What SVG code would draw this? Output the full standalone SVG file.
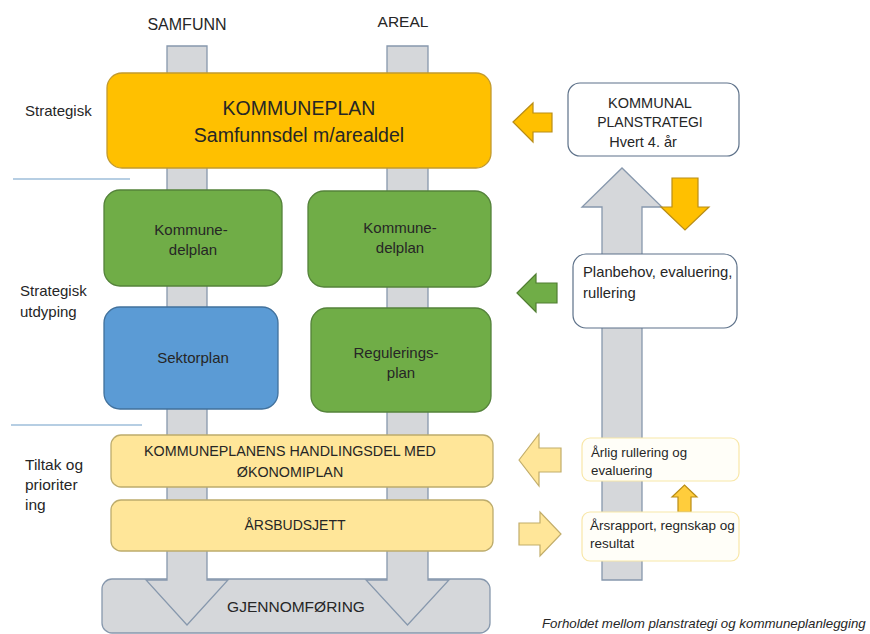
<svg xmlns="http://www.w3.org/2000/svg" width="870" height="634" viewBox="0 0 870 634">
<style>
text{font-family:"Liberation Sans",Arial,sans-serif;fill:#262626}
.c{text-anchor:middle}
.gray{fill:#d5d7da;stroke:#8798ad;stroke-width:1.3}
.orange{fill:#ffc000;stroke:#c29a2e;stroke-width:1.3}
.green{fill:#70ad47;stroke:#54823a;stroke-width:1.3}
.blue{fill:#5b9bd5;stroke:#41719c;stroke-width:1.3}
.ly{fill:#ffe699;stroke:#bdac6c;stroke-width:1.3}
.wb{fill:#ffffff;stroke:#5d7189;stroke-width:1.2}
.wy{fill:#fffef8;stroke:#f8e7a8;stroke-width:1.2}
.gold{fill:#ffc000;stroke:#b98d16;stroke-width:1.2}
.garr{fill:#70ad47;stroke:#507e32;stroke-width:1.2}
.lyarr{fill:#ffe699;stroke:#c2ad6a;stroke-width:1.2}
.div{stroke:#6e9dc8;stroke-width:1.2}
</style>

<g id="labels">
<text class="c" x="187" y="30" font-size="16">SAMFUNN</text>
<text class="c" x="403" y="27" font-size="15.5">AREAL</text>
<text x="25" y="116" font-size="15">Strategisk</text>
<text x="20" y="296" font-size="15">Strategisk</text>
<text x="20" y="317" font-size="15">utdyping</text>
<text x="25" y="470" font-size="15.5">Tiltak og</text>
<text x="25" y="490" font-size="15.5">prioriter</text>
<text x="25" y="510" font-size="15.5">ing</text>
<line class="div" x1="13" y1="179" x2="130" y2="179"/>
<line class="div" x1="11" y1="425" x2="142" y2="425"/>
<text x="542" y="628" font-size="13.3" font-style="italic">Forholdet mellom planstrategi og kommuneplanlegging</text>
</g>

<g id="gjennomforing">
<rect class="gray" x="102" y="579" width="388" height="54" rx="10"/>
</g>

<g id="connectors">
<polygon class="gray" points="167,46 207,46 207,580 228,580 187,625 146,580 167,580"/>
<polygon class="gray" points="387,46 428,46 428,580 449,580 407.5,625 366,580 387,580"/>
<polygon class="gray" points="602,580 642,580 642,207 662,207 622,168 582,207 602,207"/>
<polygon class="gold" points="513,122 533,103 533,113 552,113 552,132 533,132 533,142"/>
<polygon class="gold" points="672,178 698,178 698,207 709,207 685,230 661,207 672,207"/>
<polygon class="garr" points="517,293 536,274 536,283 557,283 557,303 536,303 536,312"/>
<polygon class="lyarr" points="519,460 539,434 539,448 561,448 561,472 539,472 539,486"/>
<polygon class="lyarr" points="519,523 540,523 540,512 561,534 540,556 540,545 519,545"/>
<polygon class="gold" points="678,512 691,512 691,497 697,497 684.5,485 672,497 678,497" style="fill:#ffcd3c"/>
</g>

<g id="gjennomforing-label">
<text class="c" x="296" y="612" font-size="15.5">GJENNOMFØRING</text>
</g>

<g id="kommuneplan">
<rect class="orange" x="107" y="73" width="384" height="95" rx="15"/>
<text class="c" x="299" y="115" font-size="19.5">KOMMUNEPLAN</text>
<text class="c" x="299" y="142" font-size="19.5">Samfunnsdel m/arealdel</text>
</g>

<g id="kommunedelplan-samfunn">
<rect class="green" x="104" y="190" width="178" height="96" rx="16"/>
<text class="c" x="191" y="235" font-size="15">Kommune-</text>
<text class="c" x="193" y="255" font-size="15">delplan</text>
</g>

<g id="kommunedelplan-areal">
<rect class="green" x="308" y="191" width="183" height="96" rx="16"/>
<text class="c" x="400" y="233" font-size="15">Kommune-</text>
<text class="c" x="400" y="253" font-size="15">delplan</text>
</g>

<g id="sektorplan">
<rect class="blue" x="104" y="307" width="174" height="102" rx="16"/>
<text class="c" x="193" y="363" font-size="15">Sektorplan</text>
</g>

<g id="reguleringsplan">
<rect class="green" x="311" y="308" width="180" height="104" rx="16"/>
<text class="c" x="396" y="358" font-size="15">Regulerings-</text>
<text class="c" x="401" y="378" font-size="15">plan</text>
</g>

<g id="handlingsdel">
<rect class="ly" x="111" y="435" width="382" height="52" rx="10"/>
<text class="c" x="290" y="456" font-size="14.3">KOMMUNEPLANENS HANDLINGSDEL MED</text>
<text class="c" x="290" y="477" font-size="14.3">ØKONOMIPLAN</text>
</g>

<g id="arsbudsjett">
<rect class="ly" x="111" y="500" width="382" height="51" rx="10"/>
<text class="c" x="295" y="530" font-size="14">ÅRSBUDSJETT</text>
</g>

<g id="planstrategi">
<rect class="wb" x="568" y="83" width="171" height="73" rx="12"/>
<text class="c" x="650" y="108" font-size="14.5">KOMMUNAL</text>
<text class="c" x="650" y="127" font-size="14">PLANSTRATEGI</text>
<text class="c" x="643" y="147" font-size="14.5">Hvert 4. år</text>
</g>

<g id="planbehov">
<rect class="wb" x="573" y="254" width="164" height="74" rx="13"/>
<text x="583" y="277" font-size="14.8">Planbehov, evaluering,</text>
<text x="583" y="298" font-size="14.8">rullering</text>
</g>

<g id="arlig-rullering">
<rect class="wy" x="582" y="438" width="157" height="43" rx="8"/>
<text x="591" y="457" font-size="13.3">Årlig rullering og</text>
<text x="591" y="475" font-size="13.3">evaluering</text>
</g>

<g id="arsrapport">
<rect class="wy" x="582" y="512" width="157" height="49" rx="8"/>
<text x="590" y="530" font-size="13.5">Årsrapport, regnskap og</text>
<text x="590" y="548" font-size="13.5">resultat</text>
</g>
</svg>
